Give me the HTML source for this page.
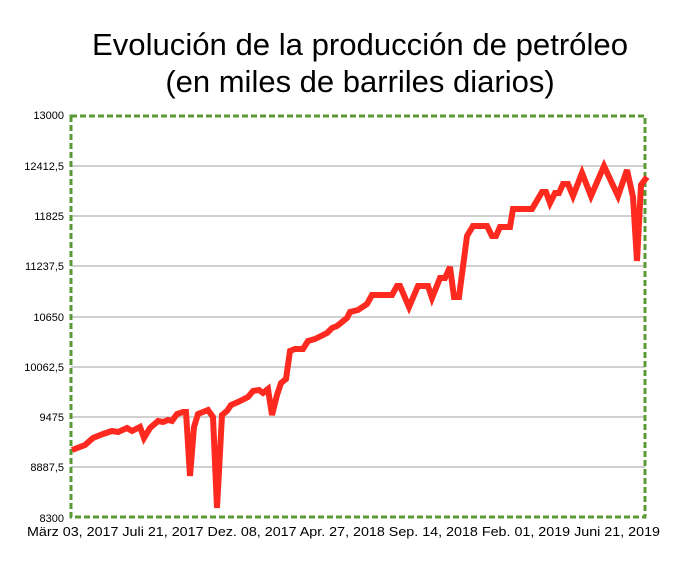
<!DOCTYPE html>
<html><head><meta charset="utf-8"><style>
body{margin:0;background:#fff;}
svg{display:block;font-family:"Liberation Sans",sans-serif;}
</style></head><body>
<svg width="674" height="566" viewBox="0 0 674 566">
<rect width="674" height="566" fill="#fff"/>
<text x="360" y="55" font-size="31" text-anchor="middle" fill="#000" textLength="536" lengthAdjust="spacingAndGlyphs">Evolución de la producción de petróleo</text>
<text x="360" y="92" font-size="31" text-anchor="middle" fill="#000">(en miles de barriles diarios)</text>
<g stroke="#b4b4b4" stroke-width="1.3">
<line x1="71" x2="645" y1="166" y2="166"/><line x1="71" x2="645" y1="216" y2="216"/>
<line x1="71" x2="645" y1="266" y2="266"/><line x1="71" x2="645" y1="317" y2="317"/>
<line x1="71" x2="645" y1="367" y2="367"/><line x1="71" x2="645" y1="417" y2="417"/>
<line x1="71" x2="645" y1="467" y2="467"/>
</g>
<rect x="71" y="116" width="574" height="401" fill="none" stroke="#5a9a34" stroke-width="3" stroke-dasharray="6,3"/>
<g font-size="11" text-anchor="end" fill="#000">
<text x="64" y="119">13000</text><text x="64" y="170">12412,5</text><text x="64" y="220">11825</text>
<text x="64" y="270">11237,5</text><text x="64" y="321">10650</text><text x="64" y="371">10062,5</text>
<text x="64" y="421">9475</text><text x="64" y="471">8887,5</text><text x="64" y="522">8300</text>
</g>
<text x="27" y="536" font-size="13" fill="#000" textLength="633" lengthAdjust="spacingAndGlyphs">März 03, 2017  Juli 21, 2017  Dez. 08, 2017  Apr. 27, 2018  Sep. 14, 2018  Feb. 01, 2019  Juni 21, 2019</text>
<polyline fill="none" stroke="#ff2a1f" stroke-width="6" stroke-linejoin="miter" stroke-miterlimit="3" points="72,450 85,445 93,438 103,434 112,431 118,432 127,428 132,431 140,427 144,438 150,428 158,421 163,422 168,420 172,421 177,414 183,412 186,412 190,476 194,427 198,414 208,410 213,417 217,508 222,415 227,411 231,405 238,402 248,397 253,391 259,390 263,393 268,389 272,415 277,395 281,383 286,379 290,351 295,349 303,349 308,341 315,339 327,333 332,328 337,326 342,322 347,318 350,312 358,310 367,304 372,295 392,295 397,286 400,286 409,307 418,286 428,286 432,298 440,278 445,278 450,267 454,297 459,297 467,236 473,226 487,226 492,236 496,236 500,227 510,227 513,209 532,209 542,192 546,192 550,203 555,193 559,193 563,184 568,184 573,196 582,173 591,196 604,166 618,196 627,170 633,197 637,261 641,185 647,177"/>
</svg>
</body></html>
